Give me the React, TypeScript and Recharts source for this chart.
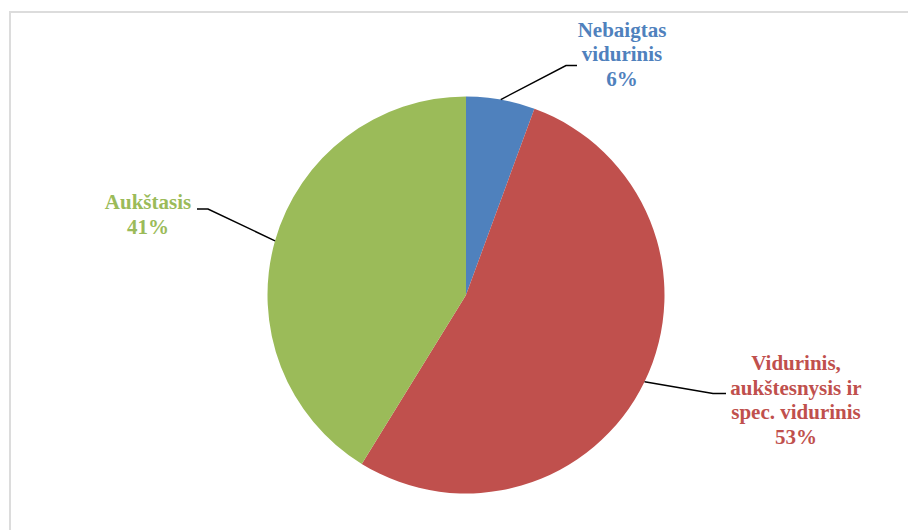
import React from 'react';
import { PieChart, Pie, Cell } from 'recharts';

// education level shares (percent)
const categories = ['Nebaigtas vidurinis', 'Vidurinis, aukštesnysis ir spec. vidurinis', 'Aukštasis'];
const shares = [5.6, 53.2, 41.2];
const labelLines = [
    ['Nebaigtas', 'vidurinis'],
    ['Vidurinis,', 'aukštesnysis ir', 'spec. vidurinis'],
    ['Aukštasis'],
];
const colors = ['#4F81BD', '#C0504D', '#9BBB59'];

const data = categories.map((name, i) => ({ name, value: shares[i] }));

// label placement relative to the pie centre: elbow of the leader, end of the leader, text centre x, first baseline
const labelLayout = [
    { elbow: [100, -229.5], end: [111, -229.5], tx: 156, ty: -258.5 },
    { elbow: [247, 98.5], end: [260, 98.5], tx: 330, ty: 75 },
    { elbow: [-258, -86], end: [-269, -86], tx: -318, ty: -86 },
];

const RAD = Math.PI / 180;

const renderLabel = (props: any) => {
    const { cx, cy, midAngle, outerRadius, index, percent } = props;
    const layout = labelLayout[index];
    const sx = cx + outerRadius * Math.cos(-midAngle * RAD);
    const sy = cy + outerRadius * Math.sin(-midAngle * RAD);
    const lines = [...labelLines[index], `${Math.round(percent * 100)}%`];
    return (
        <g key={`label-${index}`}>
            <polyline
                points={`${sx},${sy} ${cx + layout.elbow[0]},${cy + layout.elbow[1]} ${cx + layout.end[0]},${cy + layout.end[1]}`}
                fill="none"
                stroke="#000"
                strokeWidth={1.5}
            />
            <text
                x={cx + layout.tx}
                y={cy + layout.ty}
                textAnchor="middle"
                fill={colors[index]}
                style={{ fontFamily: '"Liberation Serif", "Times New Roman", serif', fontWeight: 700, fontSize: 21 }}
            >
                {lines.map((line, i) => (
                    <tspan key={i} x={cx + layout.tx} dy={i === 0 ? 0 : 24.5}>
                        {line}
                    </tspan>
                ))}
            </text>
        </g>
    );
};

export default function App() {
    return (
        <div style={{ position: 'absolute', left: 0, top: 0, width: 908, height: 530, background: '#fff', overflow: 'hidden' }}>
            <style>{`.recharts-pie-sectors { filter: drop-shadow(1px 2px 3px rgba(0,0,0,0.3)); }`}</style>
            <div
                style={{
                    position: 'absolute',
                    left: 9,
                    top: 11,
                    width: 920,
                    height: 540,
                    border: '2px solid #dcdcdc',
                    boxSizing: 'border-box',
                }}
            />
            <div style={{ position: 'absolute', left: 0, top: 0 }}>
                <PieChart width={908} height={530} margin={{ top: 0, right: 0, bottom: 0, left: 0 }}>
                    <Pie
                        data={data}
                        dataKey="value"
                        nameKey="name"
                        cx={466}
                        cy={295}
                        outerRadius={198.5}
                        startAngle={90}
                        endAngle={-270}
                        stroke="none"
                        label={renderLabel}
                        labelLine={false}
                        isAnimationActive={false}
                    >
                        {data.map((entry, index) => (
                            <Cell key={`cell-${index}`} fill={colors[index]} />
                        ))}
                    </Pie>
                </PieChart>
            </div>
        </div>
    );
}
